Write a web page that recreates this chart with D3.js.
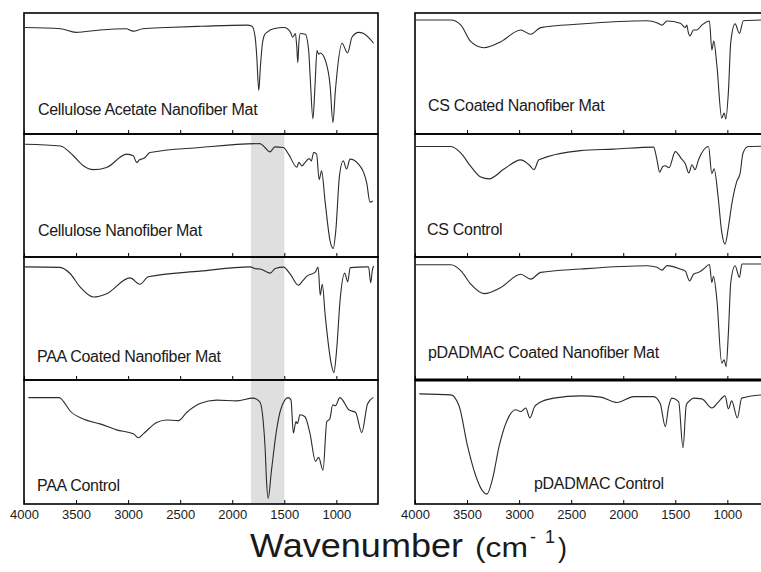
<!DOCTYPE html>
<html>
<head>
<meta charset="utf-8">
<script src="https://cdn.jsdelivr.net/npm/d3@7"></script>
<style>
body { margin: 0; background: #fff; }
text { font-family: "Liberation Sans", Arial, sans-serif; fill: #1a1a1a; }
.tick line { stroke: #000; }
</style>
</head>
<body>
<svg id="chart" width="761" height="572"></svg>
<script>
var tickValues = [4000, 3500, 3000, 2500, 2000, 1500, 1000];
var shadedBand = [1820, 1500];

var leftLabels = ['Cellulose Acetate Nanofiber Mat', 'Cellulose Nanofiber Mat', 'PAA Coated Nanofiber Mat', 'PAA Control'];
var rightLabels = ['CS Coated Nanofiber Mat', 'CS Control', 'pDADMAC Coated Nanofiber Mat', 'pDADMAC Control'];

// [wavenumber, transmittance in % of panel height]
var celluloseAcetateMat = [[3990,88],[3650,87],[3500,84],[3270,86],[3020,87],[2950,85],[2860,87],[2630,88],[2300,89],[1860,90],[1810,89],
  [1780,80],[1765,65],[1745,36],[1730,55],[1710,75],[1690,82],[1667,84],[1603,87],[1500,88],[1440,84],[1420,80],[1394,83],[1380,72],
  [1370,59],[1360,75],[1346,83],[1298,82.5],[1266,69],[1250,45],[1225,12.5],[1205,40],[1186,69],[1170,66],[1154,67],[1106,61],[1060,40],
  [1033,9.5],[1010,35],[994,50],[946,75],[892,67],[850,80],[786,84],[738,83],[642,75]];

var celluloseMat = [[3990,91.7],[3650,90.3],[3526,82.3],[3430,74.2],[3334,71],[3206,72.8],[3014,83.6],[2950,82.3],[2918,76.9],[2890,79],
  [2870,79.6],[2838,80.9],[2790,84.9],[2310,89],[1734,92.2],[1686,89],[1638,85.5],[1590,89.5],[1510,89],[1459,83.6],[1379,73],[1360,77],
  [1347,75.8],[1330,74],[1300,77],[1260,80],[1240,78],[1219,85],[1190,83.9],[1165,62.9],[1142,70],[1108,45],[1060,13],[1030,7],[1005,21.8],
  [970,66],[934,78.2],[902,71.5],[868,79.6],[790,75.8],[708,60],[677,44.6],[650,45.5]];

var paaCoatedMat = [[3990,92],[3654,91.6],[3558,86.6],[3462,75.7],[3334,67.5],[3206,70.2],[2982,83],[2886,77.9],[2806,83.9],[2308,88.5],
  [1827,92],[1780,90.5],[1731,90.2],[1683,88.5],[1635,86.9],[1587,90.7],[1507,91.8],[1443,86],[1365,77],[1320,81],[1283,84.4],[1203,87.7],
  [1175,91.8],[1155,69],[1135,77.9],[1107,52.5],[1050,13.5],[1024,6],[998,23.8],[963,66],[920,86.9],[891,79.8],[867,91.4],[707,92],
  [690,91.8],[670,79],[655,89],[642,92.6]];

var paaControl = [[3958,85.8],[3660,85.8],[3620,82.6],[3558,75.2],[3430,68.6],[3270,64.6],[3110,59.8],[2950,56.6],[2902,53.4],[2854,56.6],
  [2726,65.8],[2630,67.8],[2518,67.2],[2438,73.8],[2310,81],[2150,83.8],[1958,83.2],[1800,85.4],[1735,82.4],[1703,67.2],[1683,43.2],
  [1671,19.2],[1655,4.6],[1623,27.2],[1575,59.2],[1535,76],[1463,85.8],[1436,84],[1413,57.2],[1388,66.4],[1374,64.8],[1349,72],[1301,70.4],
  [1253,56.8],[1200,34.4],[1170,37.6],[1128,27.2],[1092,66.4],[1062,68.8],[1035,80],[1010,79.2],[966,85.8],[880,76],[815,73.8],[756,57.6],
  [700,80.8],[645,86]];

var csCoatedMat = [[3990,94.2],[3655,94.2],[3559,90],[3464,76.3],[3336,71.3],[3176,76.3],[2985,86],[2889,82.4],[2793,87.9],[2410,90.9],
  [1771,93.6],[1676,92],[1628,90],[1580,93.4],[1452,91.5],[1404,88],[1390,90],[1375,84],[1360,81],[1325,86],[1293,86],[1245,90],[1172,93.4],
  [1149,69.4],[1130,76.9],[1101,57],[1054,13.2],[1031,17.4],[1015,12.4],[990,34.7],[967,76],[926,91],[884,83.2],[846,93.6],[670,94.2]];

var csControl = [[3990,89.8],[3655,89.8],[3559,84.4],[3464,73.6],[3368,65],[3288,63.5],[3145,71.5],[2985,79],[2905,75],[2857,71],[2810,79],
  [2410,86.5],[2091,87.7],[1708,89.3],[1676,79],[1650,69],[1620,73.6],[1596,74.2],[1560,72.6],[1500,85.7],[1440,79.8],[1404,75.8],
  [1370,68.3],[1340,75],[1310,71],[1277,79],[1181,89.8],[1149,67.7],[1127,71.8],[1090,50],[1054,20.2],[1022,10.5],[990,24.2],[958,42.7],
  [910,61.3],[878,67.7],[850,84.4],[800,89.8],[670,90]];

var pdadmacCoatedMat = [[3990,93.7],[3655,93.7],[3559,88.8],[3464,77.9],[3336,70.2],[3176,75.2],[2985,86],[2889,82],[2793,87.5],[2410,90.2],
  [1771,92.9],[1676,91.6],[1628,89.3],[1580,93],[1452,90.2],[1404,88.5],[1363,80.6],[1325,86],[1277,87.5],[1229,90.2],[1172,93.9],
  [1149,79.3],[1133,84.4],[1101,65.6],[1054,13.7],[1031,16.4],[1012,10.9],[990,38.3],[967,79.3],[926,92.9],[884,83.4],[860,94.3],[670,94.3]];

var pdadmacControl = [[3959,88.8],[3655,88],[3575,78.6],[3495,46.6],[3416,22.6],[3352,10.6],[3310,8],[3256,20],[3192,46.6],[3113,68],
  [3033,76],[2985,74.6],[2937,77.4],[2896,69.4],[2851,78.6],[2810,81.4],[2666,85.4],[2410,87.2],[2218,86.2],[2059,81.8],[1899,86.6],
  [1708,86.6],[1644,80.8],[1596,62.4],[1564,78.6],[1532,85.4],[1468,82.6],[1426,45.4],[1394,80],[1363,83.2],[1325,85.4],[1245,84.8],
  [1149,77.4],[1085,82.4],[1022,87.2],[990,76.8],[958,83.2],[904,69.4],[862,85.4],[670,88]];

var svg = d3.select('#chart');

var panelTops = [13, 134, 257, 380];
var panelBottom = 504;
var panelW = 354;

var columns = [
  {x0: 24, labels: leftLabels, band: true,
   series: [celluloseAcetateMat, celluloseMat, paaCoatedMat, paaControl],
   labelPos: [[14, -19], [14, -21], [13, -18], [13, -13]]},
  {x0: 415, labels: rightLabels, band: false,
   series: [csCoatedMat, csControl, pdadmacCoatedMat, pdadmacControl],
   labelPos: [[13, -23], [12, -22], [13, -22], [119, -15]]}
];

columns.forEach(function(col, c) {
  var x = d3.scaleLinear().domain([4000, 600]).range([col.x0, col.x0 + panelW]);

  if (col.band) {
    svg.append('rect')
      .attr('x', x(shadedBand[0]))
      .attr('width', x(shadedBand[1]) - x(shadedBand[0]))
      .attr('y', panelTops[1])
      .attr('height', panelBottom - panelTops[1])
      .attr('fill', '#dfdfdf');
  }

  col.series.forEach(function(data, i) {
    var top = panelTops[i];
    var bottom = i < 3 ? panelTops[i + 1] : panelBottom;
    var y = d3.scaleLinear().domain([0, 100]).range([bottom, top]);

    var clipId = 'clip' + c + '_' + i;
    svg.append('clipPath').attr('id', clipId)
      .append('rect')
      .attr('x', col.x0).attr('y', top)
      .attr('width', panelW).attr('height', bottom - top);

    var line = d3.line()
      .x(function(d) { return x(d[0]); })
      .y(function(d) { return y(d[1]); })
      .curve(d3.curveMonotoneX);

    svg.append('path')
      .datum(data)
      .attr('clip-path', 'url(#' + clipId + ')')
      .attr('d', line)
      .attr('fill', 'none')
      .attr('stroke', '#2b2b2b')
      .attr('stroke-width', 1.1);

    var axis = d3.axisBottom(x)
      .tickValues(tickValues)
      .tickSize(-4)
      .tickPadding(6)
      .tickFormat(i === 3 ? d3.format('d') : '');

    var g = svg.append('g')
      .attr('transform', 'translate(0,' + bottom + ')')
      .call(axis);
    g.select('.domain').remove();
    g.selectAll('text')
      .style('font-family', '"Liberation Sans", Arial, sans-serif')
      .style('font-size', '13px')
      .attr('fill', '#1a1a1a');

    svg.append('rect')
      .attr('x', col.x0).attr('y', top)
      .attr('width', panelW).attr('height', bottom - top)
      .attr('fill', 'none')
      .attr('stroke', '#000')
      .attr('stroke-width', 1.6);

    svg.append('text')
      .attr('x', col.x0 + col.labelPos[i][0])
      .attr('y', bottom + col.labelPos[i][1])
      .style('font-size', '16px')
      .style('letter-spacing', '-0.3px')
      .text(col.labels[i]);
  });
});

// thicker divider on the right column
svg.append('line')
  .attr('x1', columns[1].x0).attr('x2', 761)
  .attr('y1', panelTops[3]).attr('y2', panelTops[3])
  .attr('stroke', '#000').attr('stroke-width', 3);

// axis title
svg.append('text').attr('x', 250).attr('y', 557)
  .attr('textLength', 213).attr('lengthAdjust', 'spacingAndGlyphs')
  .style('font-size', '34px').text('Wavenumber');
svg.append('text').attr('x', 475).attr('y', 557)
  .attr('textLength', 53).attr('lengthAdjust', 'spacingAndGlyphs')
  .style('font-size', '27px').text('(cm');
svg.append('text').attr('x', 530).attr('y', 543)
  .attr('textLength', 25).attr('lengthAdjust', 'spacing')
  .style('font-size', '18px').text('-1');
svg.append('text').attr('x', 558).attr('y', 557)
  .style('font-size', '27px').text(')');
</script>
</body>
</html>
